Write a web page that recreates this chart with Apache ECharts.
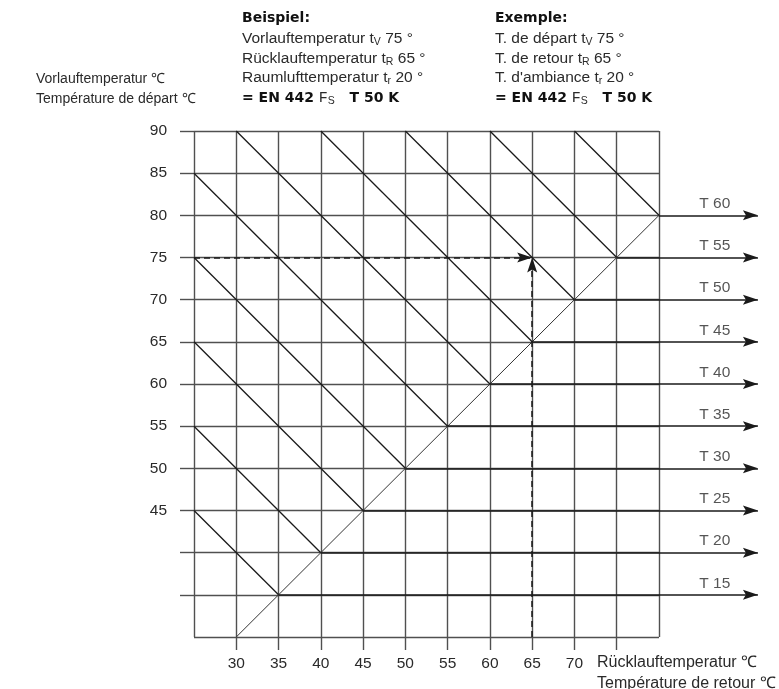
<!DOCTYPE html>
<html>
<head>
<meta charset="utf-8">
<script src="https://cdn.jsdelivr.net/npm/echarts@6/dist/echarts.min.js"></script>
<style>
html,body{margin:0;padding:0;background:#fff;}
#chart{width:779px;height:689px;}
</style>
</head>
<body>
<div id="chart"></div>
<script>
// ---- data ----
const gridX = [25, 30, 35, 40, 45, 50, 55, 60, 65, 70, 75, 80];
const gridY = [30, 35, 40, 45, 50, 55, 60, 65, 70, 75, 80, 85, 90];
const xTickValues = [30, 35, 40, 45, 50, 55, 60, 65, 70, 75];
const xLabelValues = [30, 35, 40, 45, 50, 55, 60, 65, 70];
const yTickValues = [35, 40, 45, 50, 55, 60, 65, 70, 75, 80, 85, 90];
const yLabelValues = [45, 50, 55, 60, 65, 70, 75, 80, 85, 90];
// descending lines (t_V + t_R = const), start and end points
const diagStart = [[25, 45], [25, 55], [25, 65], [25, 75], [25, 85], [30, 90], [40, 90], [50, 90], [60, 90], [70, 90]];
const diagEnd = [[35, 35], [40, 40], [45, 45], [50, 50], [55, 55], [60, 60], [65, 65], [70, 70], [75, 75], [80, 80]];
// rising line t_V = t_R
const riseLine = [[30, 30], [80, 80]];
// excess temperature lines: start level (on rising line) and label
const tLevels = [35, 40, 45, 50, 55, 60, 65, 70, 75, 80];
const tNames = ['T 15', 'T 20', 'T 25', 'T 30', 'T 35', 'T 40', 'T 45', 'T 50', 'T 55', 'T 60'];
const arrowEndX = 91.7;
const tLabelX = 86.6;
// example: flow 75, return 65
const dashFlow = [[25, 75], [65, 75]];
const dashReturn = [[65, 30], [65, 75]];
const examplePoint = [65, 75];

// ---- styles ----
const FONT = 'Liberation Sans, Arial, Helvetica, sans-serif';
const TXT = '#2a2a2a';
const GRID = '#505050';
const INK = '#1a1a1a';

function seg(a, b) { return { coords: [a, b] }; }

const gridData = [];
gridX.forEach(x => gridData.push(seg([x, gridY[0]], [x, gridY[gridY.length - 1]])));
gridY.forEach(y => gridData.push(seg([gridX[0], y], [gridX[gridX.length - 1], y])));

const diagData = diagStart.map((s, i) => seg(s, diagEnd[i]));
const tLineData = tLevels.map(v => seg([v, v], [arrowEndX, v]));

const chart = echarts.init(document.getElementById('chart'), null, { renderer: 'canvas' });

const small = { fontSize: 14, fontFamily: FONT, fill: TXT, color: TXT, lineHeight: 18 };
const big = { fontSize: 16, fontFamily: FONT, fill: TXT, color: TXT, lineHeight: 18 };
const normal = { fontSize: 15.5, fontFamily: FONT, fill: TXT, color: TXT, lineHeight: 18 };
const sub = { fontSize: 10.5, fontFamily: FONT, fill: TXT, color: TXT, lineHeight: 9, verticalAlign: 'bottom' };
const bold = { fontSize: 14, fontFamily: 'DejaVu Sans, Liberation Sans, sans-serif', fontWeight: 'bold', fill: '#111', color: '#111', lineHeight: 18 };
const mono = { fontSize: 15, fontFamily: 'Liberation Mono, DejaVu Sans Mono, monospace', fill: TXT, color: TXT, lineHeight: 18 };
const richSet = { n: normal, s: sub, b: bold, m: mono, k: small, g: big };

function textEl(x, y, text) {
  return {
    type: 'text', x: x, y: y, silent: true,
    style: { text: text, rich: richSet, verticalAlign: 'middle', align: 'left', font: '14px ' + FONT, fill: TXT }
  };
}

const graphics = [
  textEl(36, 79, '{k|Vorlauftemperatur ℃}'),
  textEl(36, 99, '{k|Température de départ ℃}'),
  textEl(242, 18, '{b|Beispiel:}'),
  textEl(242, 39, '{n|Vorlauftemperatur t}{s|V}{n| 75 °}'),
  textEl(242, 59, '{n|Rücklauftemperatur t}{s|R}{n| 65 °}'),
  textEl(242, 78, '{n|Raumlufttemperatur t}{s|r}{n| 20 °}'),
  textEl(242, 98, '{b|= EN 442 }{m|F}{s|S}{b|   T 50 K}'),
  textEl(495, 18, '{b|Exemple:}'),
  textEl(495, 39, '{n|T. de départ t}{s|V}{n| 75 °}'),
  textEl(495, 59, '{n|T. de retour t}{s|R}{n| 65 °}'),
  textEl(495, 78, '{n|T. d\'ambiance t}{s|r}{n| 20 °}'),
  textEl(495, 98, '{b|= EN 442 }{m|F}{s|S}{b|   T 50 K}'),
  textEl(597, 663, '{g|Rücklauftemperatur ℃}'),
  textEl(597, 684, '{g|Température de retour ℃}')
];

const option = {
  animation: false,
  backgroundColor: '#fff',
  grid: { left: 194, top: 131, width: 465, height: 506, containLabel: false },
  xAxis: {
    type: 'value', min: 25, max: 80, interval: 5,
    axisLine: { show: false },
    axisTick: { show: true, customValues: xTickValues, length: 13, lineStyle: { color: GRID, width: 1.4 } },
    axisLabel: { show: true, customValues: xLabelValues, margin: 19, fontSize: 15.5, fontFamily: FONT, color: TXT },
    splitLine: { show: false }
  },
  yAxis: {
    type: 'value', min: 30, max: 90, interval: 5,
    axisLine: { show: false },
    axisTick: { show: true, customValues: yTickValues, length: 14, lineStyle: { color: GRID, width: 1.4 } },
    axisLabel: { show: true, customValues: yLabelValues, margin: 27, fontSize: 15.5, fontFamily: FONT, color: TXT },
    splitLine: { show: false }
  },
  graphic: graphics,
  series: [
    {
      name: 'grid', type: 'lines', coordinateSystem: 'cartesian2d', clip: false, silent: true,
      lineStyle: { color: GRID, width: 1.4, opacity: 1 }, data: gridData, z: 1
    },
    {
      name: 'sum', type: 'lines', coordinateSystem: 'cartesian2d', clip: false, silent: true,
      lineStyle: { color: INK, width: 1.3, opacity: 1 }, data: diagData, z: 2
    },
    {
      name: 'rise', type: 'lines', coordinateSystem: 'cartesian2d', clip: false, silent: true,
      lineStyle: { color: '#333', width: 1, opacity: 1 }, data: [seg(riseLine[0], riseLine[1])], z: 2
    },
    {
      name: 'T', type: 'lines', coordinateSystem: 'cartesian2d', clip: false, silent: true,
      lineStyle: { color: INK, width: 1.5, opacity: 1 }, data: tLineData, z: 3
    },
    {
      name: 'example', type: 'lines', coordinateSystem: 'cartesian2d', clip: false, silent: true,
      lineStyle: { color: INK, width: 1.5, type: [6, 4], opacity: 1 },
      data: [seg(dashFlow[0], dashFlow[1]), seg(dashReturn[0], dashReturn[1])], z: 3
    },
    {
      name: 'arrowsRight', type: 'scatter', clip: false, silent: true,
      symbol: 'path://M0,0 L15,5 L0,10 L3,5 Z', symbolSize: [15, 10], symbolOffset: [-7.5, 0],
      itemStyle: { color: INK, opacity: 1 },
      data: tLevels.map(v => [arrowEndX, v]).concat([examplePoint]), z: 4
    },
    {
      name: 'arrowUp', type: 'scatter', clip: false, silent: true,
      symbol: 'path://M0,15 L5,0 L10,15 L5,12 Z', symbolSize: [10, 15], symbolOffset: [0, 7.5],
      itemStyle: { color: INK, opacity: 1 },
      data: [examplePoint], z: 4
    },
    {
      name: 'tLabels', type: 'scatter', clip: false, silent: true,
      symbolSize: 1, itemStyle: { color: 'rgba(0,0,0,0)' },
      label: { show: true, position: 'top', distance: 3, formatter: p => p.name, fontSize: 15.5, fontFamily: FONT, color: TXT },
      data: tLevels.map((v, i) => ({ name: tNames[i], value: [tLabelX, v] })), z: 5
    }
  ]
};
chart.setOption(option);
</script>
</body>
</html>
